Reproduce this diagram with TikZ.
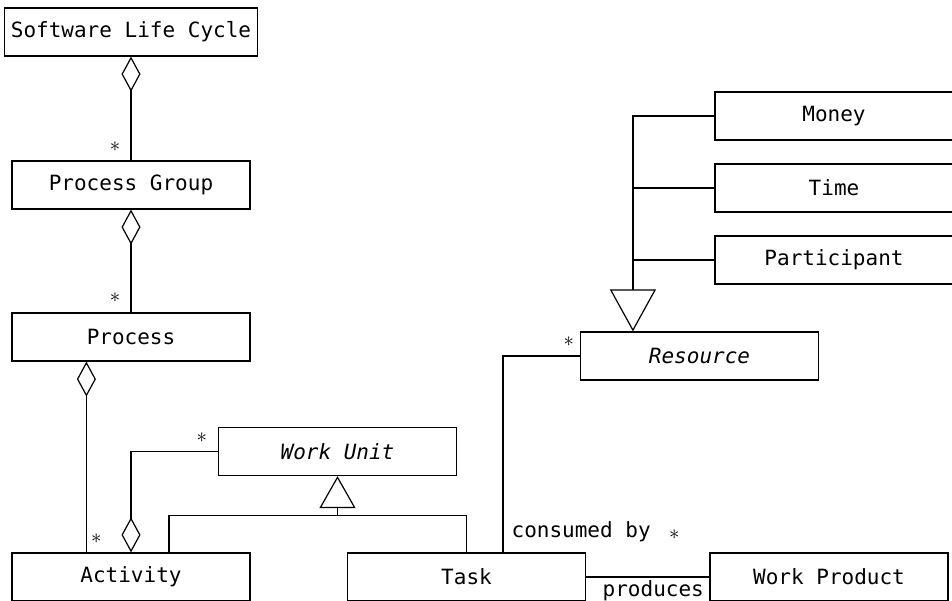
\documentclass[tikz,border=0pt]{standalone}
\usepackage{fontspec}
\setmainfont{DejaVu Sans Mono}
\usepackage{tikz}
\usetikzlibrary{arrows.meta}

\begin{document}
\begin{tikzpicture}[x=1pt, y=-1pt, line width=1.2pt,
    every node/.style={font=\fontsize{21}{25}\selectfont},
    class/.style={draw, minimum width=238pt, minimum height=48pt, inner xsep=6pt, inner ysep=0pt},
    mult/.style={inner sep=0pt},
    role/.style={inner sep=0pt, anchor=base west},
    aggr/.style={{Diamond[open, length=35pt, width=19pt]}-},
    gen/.style={-{Triangle[open, length=32pt, width=36pt]}},
    biggen/.style={-{Triangle[open, length=42pt, width=46pt]}}]
      \useasboundingbox (0,0) rectangle (952,601);
      \node[class] (slc) at (131,32) {Software Life Cycle};
      \node[class] (pg) at (131,185) {Process Group};
      \node[class] (proc) at (131,337) {Process};
      \node[class] (act) at (131,577) {Activity};
      \node[class] (wu) at (337.5,451.5) {\itshape Work Unit};
      \node[class] (task) at (466.5,577) {Task};
      \node[class] (wp) at (829,577) {Work Product};
      \node[class] (res) at (699.5,356) {\itshape Resource};
      \node[class] (money) at (834,116) {Money};
      \node[class] (time) at (834,188) {Time};
      \node[class] (part) at (834,260) {Participant};
      \coordinate (procact) at ([xshift=75pt]proc.south west);
      \coordinate (actproc) at ([xshift=75pt]act.north west);
      \coordinate (wujoin) at ([yshift=-39pt]wu.south);
      \coordinate (actgen) at ([xshift=38pt]act.north);
      \coordinate (taskres) at ([xshift=36.5pt]task.north);
      \coordinate (restip) at ([xshift=53pt]res.north west);
      \draw[aggr] (slc.south) -- (pg.north);
      \draw[aggr] (pg.south) -- (proc.north);
      \draw[aggr] (procact) -- (actproc);
      \draw[aggr] (act.north) |- (wu.west);
      \draw[gen] (wujoin) -- (wu.south);
      \draw (actgen) |- (wujoin) -| (task.north);
      \draw (taskres) |- (res.west);
      \draw (task.east) -- (wp.west);
      \draw[biggen] (money.west) -| (restip);
      \draw (time.west) -- (time.west -| restip);
      \draw (part.west) -- (part.west -| restip);
      \node[mult] at ([xshift=-16pt,yshift=14pt]pg.north) {$\ast$};
      \node[mult] at ([xshift=-16pt,yshift=15pt]proc.north) {$\ast$};
      \node[mult] at ([xshift=10pt,yshift=14pt]actproc) {$\ast$};
      \node[mult] at ([xshift=-16pt,yshift=13.5pt]wu.west) {$\ast$};
      \node[mult] at ([xshift=-11pt,yshift=14pt]res.west) {$\ast$};
      \node[role] (cons) at ([xshift=8pt,yshift=15pt]taskres) {consumed by};
      \node[mult] at ([xshift=23pt,yshift=3pt]cons.base east) {$\ast$};
      \node[role] (prod) at ([xshift=16pt,yshift=-19pt]task.east) {produces};
    \end{tikzpicture}
\end{document}
